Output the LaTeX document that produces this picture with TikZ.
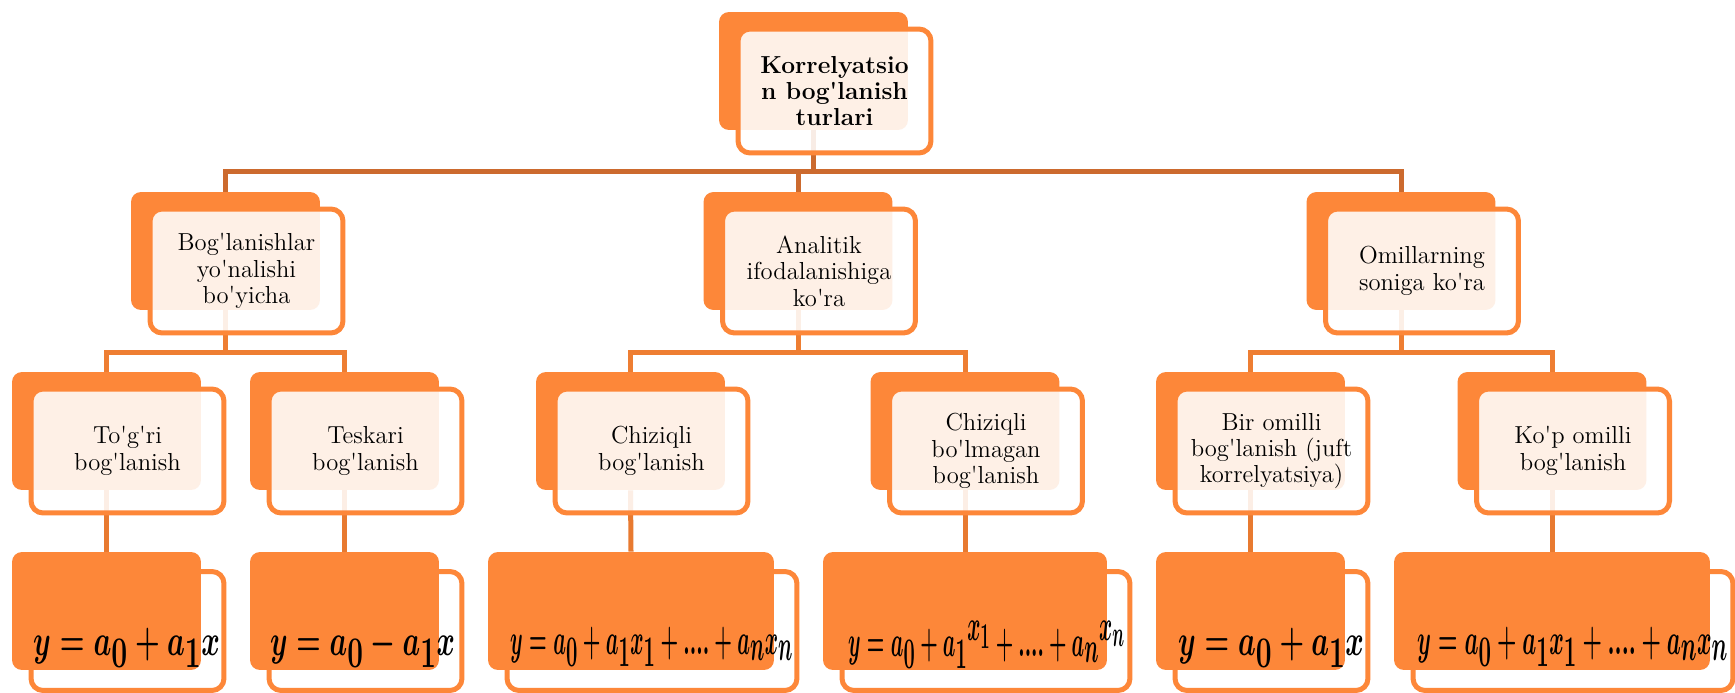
\documentclass[tikz,border=0pt]{standalone}
\usetikzlibrary{positioning,calc}
\definecolor{taronja}{RGB}{253,135,57}
\definecolor{linia0}{RGB}{204,106,46}
\definecolor{linia1}{RGB}{238,126,50}
\definecolor{linia2}{RGB}{232,122,48}
\newcommand{\ap}{\textquotesingle}
\newcommand{\fml}[3]{\resizebox{#1}{\height}{\fontsize{#2}{#2}\selectfont\boldmath$#3$}}
\tikzset{
	%Orange back plate, the width can change
	orq/.style = {rectangle, rounded corners=0.2cm, fill=taronja,
                           inner sep=0pt, minimum width=#1, minimum height=2.36cm},
	orq/.default = 3.78cm,
	%Front box with the text
	quti/.style = {rectangle, rounded corners=0.24cm, draw=taronja, line width=2.85pt,
                           fill=white, fill opacity=0.88, text opacity=1, inner sep=0pt,
                           minimum width=3.86cm, minimum height=2.48cm,
                           align=center, font=\fontsize{14}{15}\selectfont},
	%Frame behind the formulas
	ram/.style = {rectangle, rounded corners=0.24cm, draw=taronja, line width=2.85pt,
                           fill=white, inner sep=0pt, minimum width=#1, minimum height=2.38cm},
	ram/.default = 3.86cm,
	frm/.style = {anchor=base, inner sep=0pt},
	lin0/.style = {draw=linia0, line width=2.85pt},
	lin1/.style = {draw=linia1, line width=2.85pt},
	lin2/.style = {draw=linia2, line width=2.85pt}
}

\begin{document}
\begin{tikzpicture}[x=0.02cm, y=-0.02cm]
	\path[use as bounding box, fill=white] (0,0) rectangle (1735,693);
	%formula frames
	\node[ram]        (r1) at (127.5, 631)  {};
	\node[ram]        (r2) at (365.5, 631)  {};
	\node[ram=5.80cm] (r3) at (652, 631)    {};
	\node[ram=5.76cm] (r4) at (986, 631)    {};
	\node[ram]        (r5) at (1271.5, 631) {};
	\node[ram=6.40cm] (r6) at (1573, 631)   {};
	%back plates
	\node[orq] (k)  at (813.5, 71)  {};
	\node[orq] (b1) at (225.5, 251) {};
	\node[orq] (b2) at (798, 251)   {};
	\node[orq] (b3) at (1401, 251)  {};
	\node[orq] (c1) at (106.5, 431) {};
	\node[orq] (c2) at (344.5, 431) {};
	\node[orq] (c3) at (630.5, 431) {};
	\node[orq] (c4) at (965, 431)   {};
	\node[orq] (c5) at (1250.5, 431) {};
	\node[orq] (c6) at (1552, 431)  {};
	\node[orq]        (f1) at (106.5, 611)  {};
	\node[orq]        (f2) at (344.5, 611)  {};
	\node[orq=5.72cm] (f3) at (631, 611)    {};
	\node[orq=5.68cm] (f4) at (965, 611)    {};
	\node[orq]        (f5) at (1250.5, 611) {};
	\node[orq=6.32cm] (f6) at (1552, 611)   {};
	%connectors
	\draw[lin0] (k.south) -- ++(0,41.5) -| (b1.north);
	\draw[lin0] (k.south) -- ++(0,41.5) -| (b2.north);
	\draw[lin0] (k.south) -- ++(0,41.5) -| (b3.north);
	\draw[lin1] (b1.south) -- ++(0,42) -| (c1.north);
	\draw[lin1] (b1.south) -- ++(0,42) -| (c2.north);
	\draw[lin1] (b2.south) -- ++(0,42) -| (c3.north);
	\draw[lin1] (b2.south) -- ++(0,42) -| (c4.north);
	\draw[lin1] (b3.south) -- ++(0,42) -| (c5.north);
	\draw[lin1] (b3.south) -- ++(0,42) -| (c6.north);
	\draw[lin2] (c1.south) -- (f1.north);
	\draw[lin2] (c2.south) -- (f2.north);
	\draw[lin2] (c3.south) -- (f3.north);
	\draw[lin2] (c4.south) -- (f4.north);
	\draw[lin2] (c5.south) -- (f5.north);
	\draw[lin2] (c6.south) -- (f6.north);
	%text boxes
	\node[quti, font=\fontsize{14}{15}\selectfont\bfseries] (kt) at (834.5, 91)
		{Korrelyatsio\\n bog\ap lanish\\turlari};
	\node[quti] (b1t) at (246.5, 271)  {Bog\ap lanishlar\\yo\ap nalishi\\bo\ap yicha};
	\node[quti] (b2t) at (819, 271)    {Analitik\\ifodalanishiga\\ko\ap ra};
	\node[quti] (b3t) at (1422, 271)   {Omillarning\\soniga ko\ap ra};
	\node[quti] (c1t) at (127.5, 451)  {To\ap g\ap ri\\bog\ap lanish};
	\node[quti] (c2t) at (365.5, 451)  {Teskari\\bog\ap lanish};
	\node[quti] (c3t) at (651.5, 451)  {Chiziqli\\bog\ap lanish};
	\node[quti] (c4t) at (986, 451)    {Chiziqli\\bo\ap lmagan\\bog\ap lanish};
	\node[quti] (c5t) at (1271.5, 451) {Bir omilli\\bog\ap lanish (juft\\korrelyatsiya)};
	\node[quti] (c6t) at (1573, 451)   {Ko\ap p omilli\\bog\ap lanish};
	%formulas
	\node[frm] (ft1) at (126.5, 655) {\fml{3.74cm}{48}{y=a_0+a_1x}};
	\node[frm] (ft2) at (362.5, 655) {\fml{3.70cm}{48}{y=a_0-a_1x}};
	\node[frm] (ft3) at (651.5, 654) {\fml{5.66cm}{46}{y=a_0+a_1x_1+....+a_nx_n}};
	\node[frm] (ft4) at (986.5, 656) {\fml{5.54cm}{44}{y=a_0+a_1{}^{x_1}+....+a_n{}^{x_n}}};
	\node[frm] (ft5) at (1271, 655)  {\fml{3.72cm}{48}{y=a_0+a_1x}};
	\node[frm] (ft6) at (1572.5, 654) {\fml{6.22cm}{46}{y=a_0+a_1x_1+....+a_nx_n}};
\end{tikzpicture}
\end{document}
